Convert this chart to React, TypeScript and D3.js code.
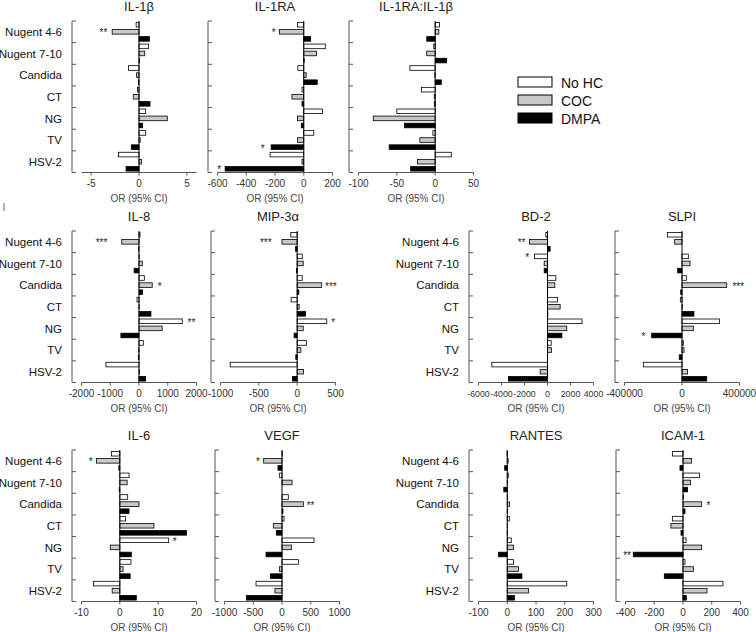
import * as d3 from "d3";

const categories = ["Nugent 4-6", "Nugent 7-10", "Candida", "CT", "NG", "TV", "HSV-2"];
const seriesNames = ["No HC", "COC", "DMPA"];
const seriesFill = ["#ffffff", "#c8c8c8", "#000000"];

// each panel: [No HC, COC, DMPA], values in category order
const il1b = [
  [-0.3, 1.0, -1.1, -0.15, 0.7, 0.7, -2.15],
  [-2.8, 0.6, -0.25, -0.6, 2.95, 0.12, 0.25],
  [1.1, 0.05, -0.05, 1.15, 0.38, -0.8, -1.35],
];
const il1ra = [
  [-43, 150, -41, -12, 130, 70, -234],
  [-169, 89, 17, -82, -43, -43, -12],
  [48, 3, 94, -12, -17, -227, -547],
];
const il1raRatio = [
  [5.7, -1.8, -33, -18, -50, -3, 21],
  [4.8, -11, -0.5, -1.2, -80.7, -20, -23],
  [-11, 15, 8, -1.0, -40, -60, -32],
];
const il8 = [
  [35, 5, 185, -70, 1505, 150, -1150],
  [-600, 115, 460, 5, 805, -10, 10],
  [-10, -170, 125, 415, -630, -20, 230],
];
const mip3a = [
  [-83, 66, 66, -79, 386, 123, -874],
  [-198, 79, 320, 26, 79, 48, 83],
  [-22, -9, 22, 110, -40, -18, -61],
];
const bd2 = [
  [-145, -1130, 725, 870, 3000, 320, -4840],
  [-1570, -290, 640, 1100, 1680, 350, -640],
  [230, -290, 20, 30, 1250, 10, -3390],
];
const slpi = [
  [-102000, 44000, 30000, -11600, 260000, 9000, -269000],
  [-51000, 56000, 311000, 1500, 79000, 14000, 39000],
  [0, -30000, -9000, 83000, -211000, -19000, 172000],
];
const il6 = [
  [-2.15, 2.4, 2.05, 1.45, 12.75, 2.9, -6.9],
  [-6.1, 1.9, 5.0, 8.9, -2.5, 0.85, -2.0],
  [-0.25, -0.15, 2.4, 17.4, 3.0, 2.7, 4.3],
];
const vegf = [
  [5, -41, 110, 35, 557, 284, -452],
  [-319, 174, 371, -151, 162, -46, -122],
  [-70, 0, 17, -99, -278, -203, -620],
];
const rantes = [
  [-1, 3.5, 0.5, 7, 14, 22, 207],
  [3, 0.5, 8, 0.5, 22, 39, 74],
  [-9, -12, 0.5, 0.5, -30, 51, 25],
];
const icam1 = [
  [-74, 114, 3, -74, 21, 14, 278],
  [60, 53, 130, -84, 130, 72, 167],
  [-21, 32, 14, -14, -346, -130, 23],
];

// significance marks: [category, series, text, value where the mark sits]
type Star = [number, number, string, number];
const il1bStars: Star[] = [[0, 1, "**", -3.3]];
const il1raStars: Star[] = [[0, 1, "*", -195], [5, 2, "*", -272], [6, 2, "*", -574]];
const il8Stars: Star[] = [[0, 1, "***", -1100], [2, 1, "*", 655], [4, 0, "**", 1690]];
const mipStars: Star[] = [[0, 1, "***", -333], [2, 1, "***", 364], [4, 0, "*", 443]];
const bd2Stars: Star[] = [[0, 1, "**", -1913], [1, 0, "*", -1600]];
const slpiStars: Star[] = [[2, 1, "***", 351000], [4, 2, "*", -254000]];
const il6Stars: Star[] = [[0, 1, "*", -7.1], [4, 0, "*", 13.8]];
const vegfStars: Star[] = [[0, 1, "*", -383], [2, 1, "**", 429]];
const icamStars: Star[] = [[2, 1, "*", 164], [4, 2, "**", -362]];

type Panel = {
  title: string;
  values: number[][];
  domain: [number, number];
  ticks: number[];
  stars: Star[];
  left: number;
  row: number;
  labels: boolean;
  tickSize?: number;
};

const panels: Panel[] = [
  { title: "IL-1β", values: il1b, domain: [-6, 6], ticks: [-5, 0, 5], stars: il1bStars, left: 72, row: 0, labels: true },
  { title: "IL-1RA", values: il1ra, domain: [-600, 200], ticks: [-600, -400, -200, 0, 200], stars: il1raStars, left: 208, row: 0, labels: false },
  { title: "IL-1RA:IL-1β", values: il1raRatio, domain: [-100, 50], ticks: [-100, -50, 0, 50], stars: [], left: 349, row: 0, labels: false },
  { title: "IL-8", values: il8, domain: [-2000, 2000], ticks: [-2000, -1000, 0, 1000, 2000], stars: il8Stars, left: 72, row: 1, labels: true },
  { title: "MIP-3α", values: mip3a, domain: [-1000, 500], ticks: [-1000, -500, 0, 500], stars: mipStars, left: 211, row: 1, labels: false },
  { title: "BD-2", values: bd2, domain: [-6000, 4000], ticks: [-6000, -4000, -2000, 0, 2000, 4000], stars: bd2Stars, left: 469, row: 1, labels: true, tickSize: 8.8 },
  { title: "SLPI", values: slpi, domain: [-400000, 400000], ticks: [-400000, 0, 400000], stars: slpiStars, left: 615, row: 1, labels: false },
  { title: "IL-6", values: il6, domain: [-10, 20], ticks: [-10, 0, 10, 20], stars: il6Stars, left: 72, row: 2, labels: true },
  { title: "VEGF", values: vegf, domain: [-1000, 1000], ticks: [-1000, -500, 0, 500, 1000], stars: vegfStars, left: 215, row: 2, labels: false },
  { title: "RANTES", values: rantes, domain: [-100, 300], ticks: [-100, 0, 100, 200, 300], stars: [], left: 469, row: 2, labels: true },
  { title: "ICAM-1", values: icam1, domain: [-400, 400], ticks: [-400, -200, 0, 200, 400], stars: icamStars, left: 616, row: 2, labels: false },
];

const rowTops = [21, 231, 450];
const plotH = 151.5;
const font = "'Liberation Sans', Arial, sans-serif";
const axisColor = "#555";

const PanelChart = ({ p }: { p: Panel }) => {
  const top = rowTops[p.row];
  const bottom = top + plotH;
  const x = d3.scaleLinear().domain(p.domain).range([p.left + 9.5, p.left + 124.5]);
  const y = d3.scaleBand<string>().domain(categories).range([top, bottom]);
  const ys = d3
    .scaleBand<string>()
    .domain(seriesNames)
    .range([0, y.bandwidth()])
    .paddingInner(0.35)
    .paddingOuter(0.2);
  const x0 = x(0);
  const cx = (x.range()[0] + x.range()[1]) / 2;
  const bounds = [...categories.map((c) => y(c) ?? 0), bottom];

  return (
    <g>
      <text x={cx} y={top - 10} textAnchor="middle" fontSize={13} fill="#222">
        {p.title}
      </text>

      {/* bracket-style category axis */}
      <line x1={p.left} x2={p.left} y1={top} y2={bottom} stroke={axisColor} strokeWidth={1} />
      {bounds.map((b, i) => (
        <line key={i} x1={p.left} x2={p.left + 4} y1={b} y2={b} stroke={axisColor} strokeWidth={1} />
      ))}
      {p.labels &&
        categories.map((c) => (
          <text
            key={c}
            x={p.left - 10}
            y={(y(c) ?? 0) + y.bandwidth() / 2}
            dy="0.36em"
            textAnchor="end"
            fontSize={11.5}
            fill="#111"
          >
            {c}
          </text>
        ))}

      {/* bars */}
      {p.values.map((vals, s) =>
        vals.map((v, ci) => (
          <rect
            key={`${s}-${ci}`}
            x={Math.min(x0, x(v))}
            y={(y(categories[ci]) ?? 0) + (ys(seriesNames[s]) ?? 0)}
            width={Math.abs(x(v) - x0)}
            height={ys.bandwidth()}
            fill={seriesFill[s]}
            stroke="#000"
            strokeWidth={0.8}
          />
        ))
      )}

      <line x1={x0} x2={x0} y1={top} y2={bottom} stroke="#000" strokeWidth={1} />

      {/* value axis */}
      <line x1={x.range()[0]} x2={x.range()[1]} y1={bottom} y2={bottom} stroke={axisColor} strokeWidth={1} />
      {p.ticks.map((t) => (
        <g key={t}>
          <line x1={x(t)} x2={x(t)} y1={bottom} y2={bottom + 3} stroke={axisColor} strokeWidth={1} />
          <text x={x(t)} y={bottom + 14} textAnchor="middle" fontSize={p.tickSize ?? 10} fill="#333">
            {String(t)}
          </text>
        </g>
      ))}
      <text x={cx} y={bottom + 29} textAnchor="middle" fontSize={10} fill="#444">
        OR (95% CI)
      </text>

      {p.stars.map(([ci, s, label, at], i) => (
        <text
          key={i}
          x={x(at)}
          y={(y(categories[ci]) ?? 0) + (ys(seriesNames[s]) ?? 0) + ys.bandwidth() / 2 + 4.5}
          textAnchor={at < 0 ? "end" : "start"}
          fontSize={10}
          fill="#222"
        >
          {label}
        </text>
      ))}
    </g>
  );
};

const App = () => {
  const legendY = d3.scaleBand<string>().domain(seriesNames).range([77, 131]);
  return (
    <svg
      width={756}
      height={632}
      style={{ position: "absolute", left: 0, top: 0, background: "#fff" }}
      fontFamily={font}
    >
      <rect width={756} height={632} fill="#fff" />
      <line x1={4} x2={4} y1={203} y2={211} stroke="#666" strokeWidth={1} />
      {panels.map((p) => (
        <PanelChart key={p.title} p={p} />
      ))}
      {seriesNames.map((s, i) => (
        <g key={s}>
          <rect
            x={518}
            y={legendY(s) ?? 0}
            width={34}
            height={10}
            fill={seriesFill[i]}
            stroke="#000"
            strokeWidth={1}
          />
          <text x={561} y={(legendY(s) ?? 0) + 10.5} fontSize={14} fill="#111">
            {s}
          </text>
        </g>
      ))}
    </svg>
  );
};

export default App;
